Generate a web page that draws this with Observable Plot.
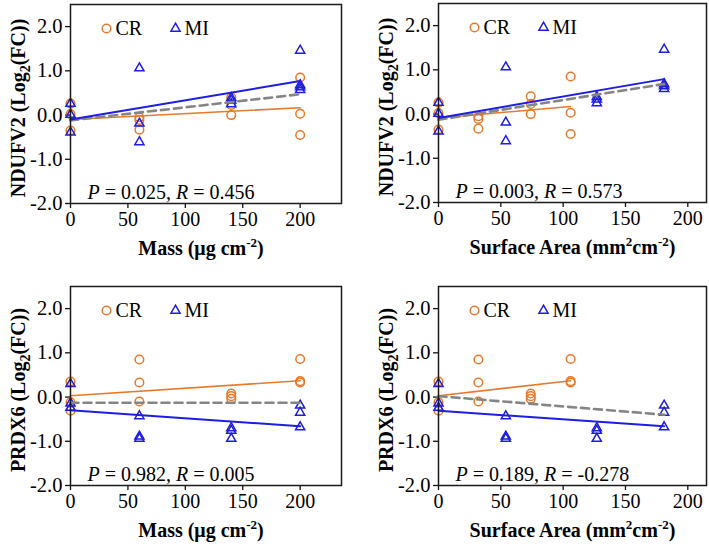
<!DOCTYPE html>
<html><head><meta charset="utf-8">
<script src="https://cdn.jsdelivr.net/npm/d3@7"></script>
<script src="https://cdn.jsdelivr.net/npm/@observablehq/plot@0.6"></script>
<style>
body{margin:0;background:#fff;}
#wrap{position:relative;width:709px;height:546px;background:#fff;overflow:hidden;}
.panel{position:absolute;}
</style></head><body><div id="wrap"></div>
<script>
// ---- data ----
const massCR = [0, 60, 140, 200];
const massMI = [0, 60, 140, 200];
const areaCR = [0, 32, 74, 106];
const areaMI = [0, 54, 127, 181];
const xTicks = [0, 50, 100, 150, 200];
const yTicks = [-2, -1, 0, 1, 2];
const seriesNames = ["CR", "MI"];

// log2(FC) values per dose level
const nduCR = [[0.26, 0.02, -0.35], [-0.05, -0.11, -0.33], [0.40, 0.23, 0.00], [0.85, 0.03, -0.45]];
const nduMI = [[0.26, 0.01, -0.39], [1.06, -0.19, -0.61], [0.39, 0.33, 0.25], [1.46, 0.68, 0.63, 0.57]];
const prdCR = [[0.35, -0.12, -0.31], [0.85, 0.33, -0.10], [0.08, 0.02, -0.04], [0.86, 0.36, 0.33]];
const prdMI = [[0.30, -0.14, -0.24], [-0.43, -0.89, -0.94], [-0.70, -0.76, -0.94], [-0.19, -0.35, -0.68]];

// fitted regression lines: [value at first dose, value at last dose] for CR, MI, all
const fitNduMass = [[-0.10, 0.165], [-0.10, 0.77], [-0.12, 0.47]];
const fitNduArea = [[-0.09, 0.17], [-0.09, 0.79], [-0.13, 0.68]];
const fitPrdMass = [[0.03, 0.37], [-0.30, -0.66], [-0.13, -0.13]];
const fitPrdArea = [[0.03, 0.37], [-0.31, -0.66], [0.02, -0.40]];

const statNduMass = ["0.025", "0.456"];
const statNduArea = ["0.003", "0.573"];
const statPrdMass = ["0.982", "0.005"];
const statPrdArea = ["0.189", "-0.278"];

const yLabelND = "NDUFV2 (Log2(FC))";
const yLabelPR = "PRDX6 (Log2(FC))";
const xLabelMass = "Mass (μg cm-2)";
const xLabelArea = "Surface Area (mm2cm-2)";

// ---- style ----
const FONT = '"Liberation Serif", "Times New Roman", serif';
const ORANGE = "#E8792B", BLUE = "#1D1DE3", GRAY = "#858585";

const richText = {
  "NDUFV2 (Log2(FC))": 'NDUFV2 (Log<tspan dy="5" font-size="14">2</tspan><tspan dy="-5">(FC))</tspan>',
  "PRDX6 (Log2(FC))": 'PRDX6 (Log<tspan dy="5" font-size="14">2</tspan><tspan dy="-5">(FC))</tspan>',
  "Mass (μg cm-2)": 'Mass (μg cm<tspan dy="-8" font-size="13">-2</tspan><tspan dy="8">)</tspan>',
  "Surface Area (mm2cm-2)": 'Surface Area (mm<tspan dy="-8" font-size="13">2</tspan><tspan dy="8">cm</tspan><tspan dy="-8" font-size="13">-2</tspan><tspan dy="8">)</tspan>'
};

function build(yCR, yMI, xCR, xMI) {
  const cr = [], mi = [];
  yCR.forEach((vals, i) => vals.forEach(v => cr.push({x: xCR[i], y: v})));
  yMI.forEach((vals, i) => vals.forEach(v => mi.push({x: xMI[i], y: v})));
  return {cr, mi};
}

function panel(o) {
  const {cr, mi} = build(o.yCR, o.yMI, o.xCR, o.xMI);
  const all = cr.concat(mi);
  const ext = arr => d3.extent(arr, d => d.x);
  const seg = (e, f) => [{x: e[0], y: f[0]}, {x: e[1], y: f[1]}];
  const lineCR = seg(ext(cr), o.fit[0]);
  const lineMI = seg(ext(mi), o.fit[1]);
  const lineAll = seg(ext(all), o.fit[2]);
  const statStr = `P = ${o.stat[0]}, R = ${o.stat[1]}`;
  const svg = Plot.plot({
    width: o.width, height: 273,
    marginLeft: o.ml, marginRight: o.mr, marginTop: o.mt, marginBottom: o.mb,
    style: {fontFamily: FONT, fontSize: "20px", color: "#000", background: "transparent", overflow: "visible"},
    x: {domain: [0, o.xmax]},
    y: {domain: [-2, 2.5]},
    marks: [
      Plot.axisY({ticks: yTicks, tickFormat: d => d.toFixed(1), tickSize: 5, tickPadding: 3, label: null, fontSize: 20.5, stroke: "#111", strokeWidth: 1.3}),
      Plot.axisX({ticks: xTicks, tickFormat: d => String(d), tickSize: 5, tickPadding: 3, label: null, fontSize: 20, stroke: "#111", strokeWidth: 1.3}),
      Plot.dot(cr, {x: "x", y: "y", r: 4.3, stroke: ORANGE, strokeWidth: 1.5, fill: "none"}),
      Plot.dot(mi, {x: "x", y: "y", r: 3.4, symbol: "triangle", stroke: BLUE, strokeWidth: 1.5, fill: "none"}),
      Plot.line(lineCR, {x: "x", y: "y", stroke: ORANGE, strokeWidth: 1.6}),
      Plot.line(lineAll, {x: "x", y: "y", stroke: GRAY, strokeWidth: 2.6, strokeDasharray: "8,5"}),
      Plot.line(lineMI, {x: "x", y: "y", stroke: BLUE, strokeWidth: 2}),
      Plot.frame({stroke: "#1a1a1a", strokeWidth: 1.5}),
      // legend
      Plot.dot([seriesNames[0]], {frameAnchor: "top-left", dx: 36, dy: 24, r: 4.3, stroke: ORANGE, strokeWidth: 1.5, fill: "none"}),
      Plot.text([seriesNames[0]], {frameAnchor: "top-left", dx: 45, dy: 24, text: d => d, textAnchor: "start", lineAnchor: "middle", fontSize: 20}),
      Plot.dot([seriesNames[1]], {frameAnchor: "top-left", dx: 105, dy: 24, r: 3.4, symbol: "triangle", stroke: BLUE, strokeWidth: 1.5, fill: "none"}),
      Plot.text([seriesNames[1]], {frameAnchor: "top-left", dx: 114, dy: 24, text: d => d, textAnchor: "start", lineAnchor: "middle", fontSize: 20}),
      // statistics
      Plot.text([statStr], {frameAnchor: "bottom-left", dx: 17, dy: -11, text: d => d, textAnchor: "start", lineAnchor: "middle", fontSize: 20}),
      // axis titles
      Plot.text([o.ylab], {frameAnchor: "left", dx: -52, dy: 4, rotate: -90, text: d => d, textAnchor: "middle", lineAnchor: "middle", fontSize: 20, fontWeight: "bold"}),
      Plot.text([o.xlab], {frameAnchor: "bottom", dx: o.xlabDx, dy: 45, text: d => d, textAnchor: "middle", lineAnchor: "middle", fontSize: 20, fontWeight: "bold"})
    ]
  });
  d3.select(svg).selectAll("text").each(function() {
    const t = this.textContent;
    if (richText[t]) this.innerHTML = richText[t];
    else if (t === statStr) {
      this.innerHTML = `<tspan font-style="italic">P</tspan> = ${o.stat[0]}, <tspan font-style="italic">R</tspan> = ${o.stat[1]}`;
    }
  });
  const div = document.createElement("div");
  div.className = "panel";
  div.style.left = o.left + "px";
  div.style.top = o.top + "px";
  div.appendChild(svg);
  document.getElementById("wrap").appendChild(div);
}

panel({left: 0, top: 0, width: 354, ml: 70, mr: 13, mt: 4, mb: 70, xmax: 236,
  xCR: massCR, xMI: massMI, yCR: nduCR, yMI: nduMI, fit: fitNduMass, stat: statNduMass,
  ylab: yLabelND, xlab: xLabelMass, xlabDx: -5});
panel({left: 354, top: 0, width: 355, ml: 84, mr: 3, mt: 3, mb: 71, xmax: 215,
  xCR: areaCR, xMI: areaMI, yCR: nduCR, yMI: nduMI, fit: fitNduArea, stat: statNduArea,
  ylab: yLabelND, xlab: xLabelArea, xlabDx: 0});
panel({left: 0, top: 273, width: 354, ml: 70, mr: 13, mt: 13, mb: 61, xmax: 236,
  xCR: massCR, xMI: massMI, yCR: prdCR, yMI: prdMI, fit: fitPrdMass, stat: statPrdMass,
  ylab: yLabelPR, xlab: xLabelMass, xlabDx: -5});
panel({left: 354, top: 273, width: 355, ml: 84, mr: 3, mt: 13, mb: 61, xmax: 215,
  xCR: areaCR, xMI: areaMI, yCR: prdCR, yMI: prdMI, fit: fitPrdArea, stat: statPrdArea,
  ylab: yLabelPR, xlab: xLabelArea, xlabDx: 0});
</script>
</body></html>
